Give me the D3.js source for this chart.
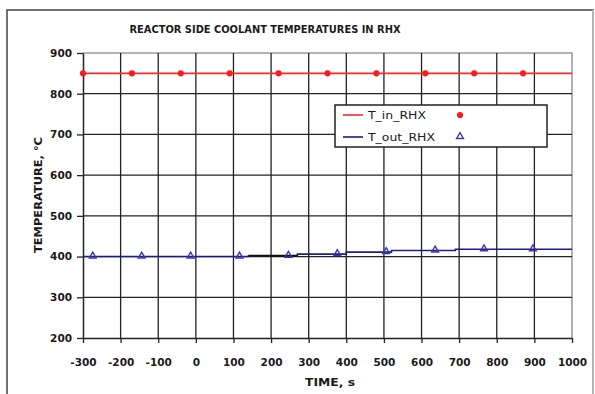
<!DOCTYPE html>
<html>
<head>
<meta charset="utf-8">
<script src="https://cdn.jsdelivr.net/npm/d3@7"></script>
<style>
  body { margin: 0; background: #fff; }
  text { font-family: "DejaVu Sans", sans-serif; fill: #1a1a1a; }
</style>
</head>
<body>
<svg id="chart" width="595" height="394"></svg>
<script>
// series data
const xTicks = [-300, -200, -100, 0, 100, 200, 300, 400, 500, 600, 700, 800, 900, 1000];
const yTicks = [200, 300, 400, 500, 600, 700, 800, 900];

const tInTime = [-300, 1000];
const tInVals = [850, 850];
const tInMarkTime = [-300, -170, -40, 90, 220, 350, 480, 610, 740, 870];
const tInMarkVals = [850, 850, 850, 850, 850, 850, 850, 850, 850, 850];

const tOutTime = [-300, 140, 270, 400, 520, 690, 1000];
const tOutVals = [400, 402, 406, 411, 415, 418, 418];
const tOutMarkTime = [-274, -144, -14, 116, 246, 376, 506, 636, 766, 896];
const tOutMarkVals = [400, 400, 400, 400, 402, 406, 411, 415, 418, 418];

const overlapTime = [140, 270];
const overlapVals = [402, 402];

const legendNames = ["T_in_RHX", "T_out_RHX"];

const svg = d3.select("#chart");
const margin = { left: 83, right: 23, top: 53, bottom: 56 };
const width = 595, height = 394;

const x = d3.scaleLinear().domain([-300, 1000]).range([margin.left, width - margin.right]);
const y = d3.scaleLinear().domain([200, 900]).range([height - margin.bottom, margin.top]);

// outer frame
svg.append("path")
  .attr("d", "M7,400 L7,10 L593,10 L593,400")
  .attr("fill", "none")
  .attr("stroke", "#444")
  .attr("stroke-width", 1.5);
svg.append("line")
  .attr("x1", 593).attr("x2", 593).attr("y1", 10).attr("y2", 394)
  .attr("stroke", "#ccc").attr("stroke-width", 1.5);

svg.append("text")
  .attr("x", 265).attr("y", 33)
  .attr("text-anchor", "middle")
  .attr("font-size", 10).attr("font-weight", "bold")
  .attr("textLength", 271).attr("lengthAdjust", "spacingAndGlyphs")
  .text("REACTOR SIDE COOLANT TEMPERATURES IN RHX");

// plot border (top / right gray)
svg.append("path")
  .attr("d", `M${x(-300)},${y(900)} L${x(1000)},${y(900)} L${x(1000)},${y(200)}`)
  .attr("fill", "none").attr("stroke", "#9a9a9a").attr("stroke-width", 1.5);

// grid
svg.append("g")
  .selectAll("line")
  .data(yTicks.filter(d => d > 200 && d < 900))
  .join("line")
  .attr("x1", x(-300)).attr("x2", x(1000))
  .attr("y1", d => y(d)).attr("y2", d => y(d))
  .attr("stroke", "#222").attr("stroke-width", 1.3);
svg.append("g")
  .selectAll("line")
  .data(xTicks.filter(d => d > -300 && d < 1000))
  .join("line")
  .attr("x1", d => x(d)).attr("x2", d => x(d))
  .attr("y1", y(200)).attr("y2", y(900))
  .attr("stroke", "#222").attr("stroke-width", 1.3);

// axes
const xAxis = svg.append("g")
  .attr("transform", `translate(0,${y(200)})`)
  .call(d3.axisBottom(x).tickValues(xTicks).tickFormat(d => String(d))
    .tickSize(5).tickSizeOuter(0).tickPadding(16));
const yAxis = svg.append("g")
  .attr("transform", `translate(${x(-300)},0)`)
  .call(d3.axisLeft(y).tickValues(yTicks).tickFormat(d => String(d))
    .tickSize(6).tickSizeOuter(0).tickPadding(5));
[xAxis, yAxis].forEach(g => {
  g.select(".domain").attr("stroke", "#222").attr("stroke-width", 1.5);
  g.selectAll(".tick line").attr("stroke", "#222").attr("stroke-width", 1.3);
  g.selectAll(".tick text")
    .attr("font-family", "DejaVu Sans Condensed, DejaVu Sans")
    .attr("font-size", 10.5).attr("font-weight", "bold").attr("fill", "#1a1a1a");
});

svg.append("text")
  .attr("x", 330).attr("y", 386)
  .attr("text-anchor", "middle")
  .attr("font-size", 10).attr("font-weight", "bold")
  .attr("textLength", 50).attr("lengthAdjust", "spacingAndGlyphs")
  .text("TIME, s");
svg.append("text")
  .attr("transform", "translate(42,195) rotate(-90)")
  .attr("text-anchor", "middle")
  .attr("font-size", 10).attr("font-weight", "bold")
  .attr("textLength", 116).attr("lengthAdjust", "spacingAndGlyphs")
  .text("TEMPERATURE, °C");

// series
const pts = (ts, vs) => ts.map((t, i) => [t, vs[i]]);
const line = d3.line().x(d => x(d[0])).y(d => y(d[1]));
const stepLine = d3.line().x(d => x(d[0])).y(d => y(d[1])).curve(d3.curveStepAfter);

svg.append("path")
  .attr("d", line(pts(tInTime, tInVals)))
  .attr("fill", "none").attr("stroke", "#ff2a2a").attr("stroke-width", 1.6);
svg.append("path")
  .attr("d", stepLine(pts(tOutTime, tOutVals)))
  .attr("fill", "none").attr("stroke", "#1c1c8c").attr("stroke-width", 1.6);
svg.append("path")
  .attr("d", line(pts(overlapTime, overlapVals)))
  .attr("fill", "none").attr("stroke", "#111").attr("stroke-width", 2);

const dot = d3.symbol().type(d3.symbolCircle).size(30);
const triangle = d3.symbol().type(d3.symbolTriangle).size(20);

svg.append("g")
  .selectAll("path")
  .data(pts(tInMarkTime, tInMarkVals))
  .join("path")
  .attr("transform", d => `translate(${x(d[0])},${y(d[1])})`)
  .attr("d", dot)
  .attr("fill", "#ff1a1a");
svg.append("g")
  .selectAll("path")
  .data(pts(tOutMarkTime, tOutMarkVals))
  .join("path")
  .attr("transform", d => `translate(${x(d[0])},${y(d[1]) - 0.5})`)
  .attr("d", triangle)
  .attr("fill", "none").attr("stroke", "#3a3aa6").attr("stroke-width", 1.4);

// legend
const legend = svg.append("g").attr("transform", "translate(335,105)");
legend.append("rect")
  .attr("width", 212).attr("height", 42)
  .attr("fill", "#fff").attr("stroke", "#222").attr("stroke-width", 1.5);
const legColors = ["#ff2a2a", "#1c1c8c"];
const legWidths = [58, 67];
legendNames.forEach((name, i) => {
  const ly = 10 + i * 22;
  legend.append("line")
    .attr("x1", 8).attr("x2", 28).attr("y1", ly).attr("y2", ly)
    .attr("stroke", legColors[i]).attr("stroke-width", 1.6);
  legend.append("text")
    .attr("x", 33).attr("y", ly + 4)
    .attr("font-size", 11)
    .attr("textLength", legWidths[i]).attr("lengthAdjust", "spacingAndGlyphs")
    .text(name);
});
legend.append("path")
  .attr("transform", "translate(125,10)").attr("d", dot).attr("fill", "#ff1a1a");
legend.append("path")
  .attr("transform", "translate(125,31.5)").attr("d", triangle)
  .attr("fill", "none").attr("stroke", "#3a3aa6").attr("stroke-width", 1.4);
</script>
</body>
</html>
